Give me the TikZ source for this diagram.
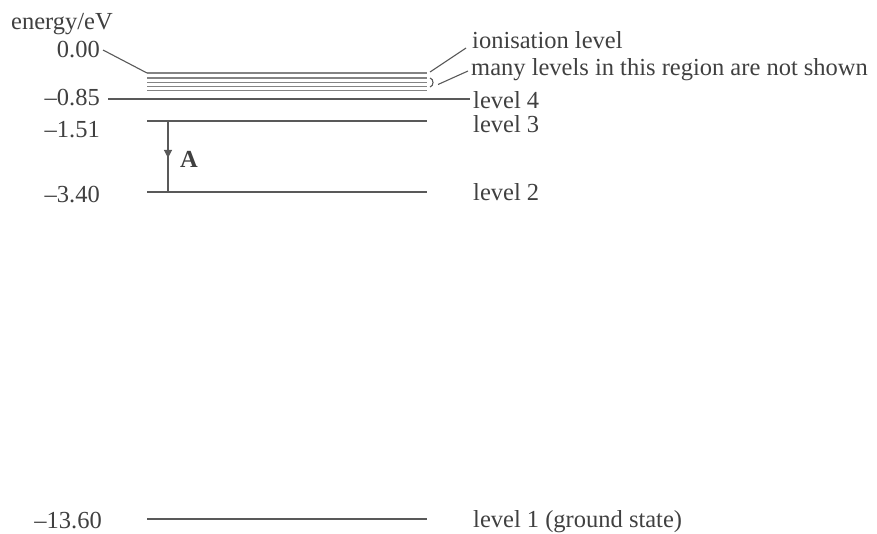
\documentclass[tikz,border=0pt]{standalone}
\usepackage{fontspec}
\setmainfont{Liberation Serif}
\usetikzlibrary{positioning, arrows.meta, decorations.markings}
\definecolor{ink}{rgb}{0.25,0.25,0.25}
\definecolor{rule}{rgb}{0.35,0.35,0.35}
\tikzset{
    x=1pt, y=-1pt, % pixel grid, y downwards
    every node/.style={inner sep=0pt, text=ink, font=\fontsize{24.5}{27}\selectfont},
    energy/.style={anchor=base east}, % values on the left
    lvlname/.style={anchor=base west}, % labels on the right
    levelline/.style={draw=rule, line width=1.7pt},
    faintline/.style={draw=rule!75, line width=1.7pt},
    leader/.style={draw=rule, line width=1.1pt},
    trans/.style={draw=rule, line width=1.4pt,
        decoration={markings, mark=at position 0.52 with {\arrow{Triangle[width=8pt,length=8pt]}}},
        postaction={decorate}},
}
\begin{document}
\begin{tikzpicture}
    \useasboundingbox (0,0) rectangle (877,533);

    % ends of the levels
    \foreach \n/\y in {l0/73, l4/99, l3/121, l2/192, l1/519} {
        \coordinate (\n L) at (147,\y);
        \coordinate (\n R) at (427,\y);
    }

    % values on the left
    \node[anchor=base west] (axis) at (11,29) {energy/eV};
    \node[energy] (e0) at (100,57) {0.00};
    \node[energy] (e4) at (100,105) {\textendash0.85};
    \node[energy] (e3) at (100,137) {\textendash1.51};
    \node[energy] (e2) at (100,202) {\textendash3.40};
    \node[energy] (e1) at (102,528) {\textendash13.60};

    % labels on the right
    \node[lvlname] (ion) at (472,48) {ionisation level};
    \node[lvlname] (many) at (471,75) {many levels in this region are not shown};
    \node[lvlname] (n4) at (473,108) {level 4};
    \node[lvlname] (n3) at (473,132) {level 3};
    \node[lvlname] (n2) at (473,200) {level 2};
    \node[lvlname] (n1) at (473,527) {level 1 (ground state)};

    % the levels
    \foreach \y in {78, 82.5, 86.5, 90.5}
        \draw[faintline] (147,\y) -- (427,\y);
    \draw[faintline] (l0L) -- (l0R);
    \foreach \n in {l4, l3, l2, l1}
        \draw[levelline] (\n L) -- (\n R);

    % small bracket and leaders
    \coordinate (brace) at (434,82.5);
    \draw[leader] (430,78) .. controls (434,79) and (434,86) .. (430,87);
    \coordinate (e0end) at (103,50);
    \coordinate (ionend) at (466,48);
    \coordinate (manyend) at (468,71);
    \coordinate (e4end) at (108,99);
    \coordinate (n4end) at (470,99);
    \draw[leader] (e0end) -- (l0L);
    \draw[leader] (l0R) ++(3,-1) -- (ionend);
    \draw[leader] (brace) ++(4,2) -- (manyend);
    \draw[leader] (e4end) -- (l4L);
    \draw[leader] (l4R) -- (n4end);

    % transition A
    \coordinate (a3) at (168,121);
    \coordinate (a2) at (168,192);
    \draw[trans] (a3) -- (a2);
    \node[anchor=base west, font=\fontsize{24.5}{27}\selectfont\bfseries] (A) at (180,167) {A};
\end{tikzpicture}
\end{document}
